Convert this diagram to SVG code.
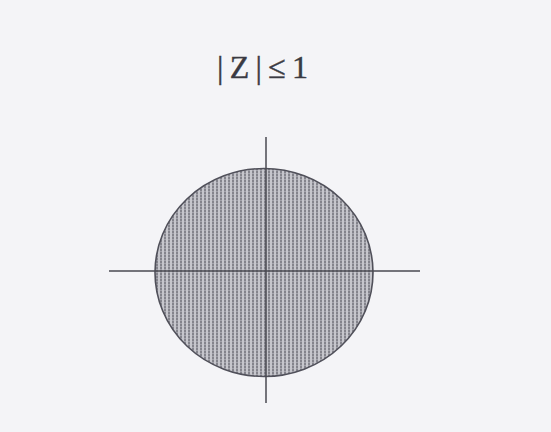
<svg xmlns="http://www.w3.org/2000/svg" width="551" height="432" viewBox="0 0 551 432">
  <defs>
    <pattern id="dots" x="0" y="0" width="4" height="3" patternUnits="userSpaceOnUse">
      <rect x="0" y="0" width="4" height="3" fill="#c6c6cc"/>
      <rect x="0" y="0" width="2" height="3" fill="#a4a4ac"/>
      <rect x="0" y="0" width="2" height="2" fill="#84848c"/>
    </pattern>
  </defs>
  <style>
    .axis { stroke: #4a4a52; stroke-width: 1.5; fill: none; }
    .disk { fill: url(#dots); stroke: #50505a; stroke-width: 1.6; }
    .label { font-family: "Liberation Serif", "DejaVu Serif", serif; font-size: 32px; fill: #3a3a42; stroke: #3a3a42; stroke-width: 0.4; }
  </style>
  <rect x="0" y="0" width="551" height="432" fill="#f4f4f7"/>
  <g id="title">
    <text class="label" x="217" y="78" textLength="91" lengthAdjust="spacing">|Z|≤1</text>
  </g>
  <g id="unit-disk">
    <ellipse class="disk" cx="264" cy="272.5" rx="109" ry="104"/>
  </g>
  <g id="axes">
    <line class="axis" x1="109" y1="271" x2="420" y2="271"/>
    <line class="axis" x1="266" y1="137" x2="266" y2="403"/>
  </g>
</svg>
